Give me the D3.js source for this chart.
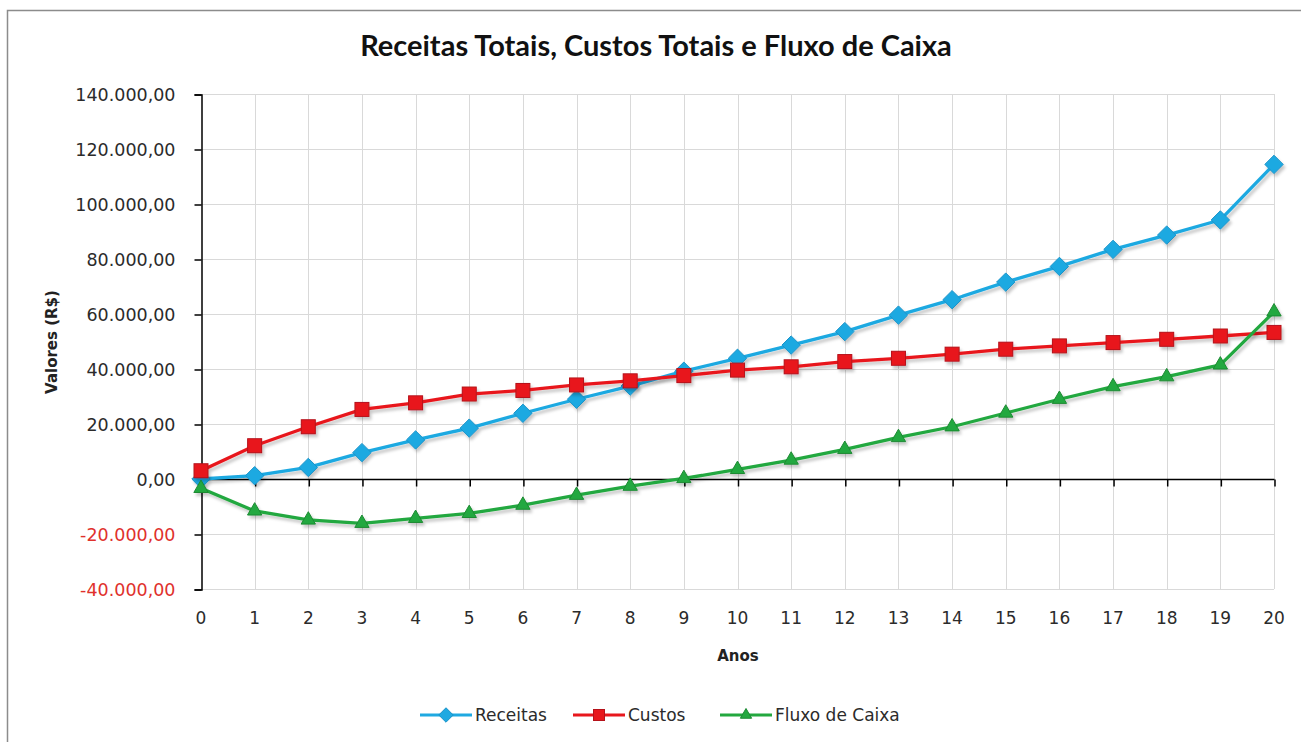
<!DOCTYPE html>
<html>
<head>
<meta charset="utf-8">
<script src="https://cdn.jsdelivr.net/npm/d3@7"></script>
<style>
  body { margin: 0; background: #fff; }
  text { font-family: "DejaVu Sans", Verdana, sans-serif; }
</style>
</head>
<body>
<svg id="chart" width="1301" height="742"></svg>
<script>
// data
var anos = [0, 1, 2, 3, 4, 5, 6, 7, 8, 9, 10, 11, 12, 13, 14, 15, 16, 17, 18, 19, 20];
var receitas = [0, 1200, 4200, 9600, 14200, 18500, 23900, 29000, 33800, 39200, 43900, 48700, 53600, 59600, 65200, 71600, 77300, 83500, 88700, 94200, 114400];
var custos = [3000, 12100, 19000, 25300, 27700, 30900, 32200, 34200, 35700, 37600, 39600, 40800, 42700, 43900, 45400, 47200, 48400, 49600, 50800, 52000, 53300];
var fluxo = [-3400, -11600, -14900, -16100, -14300, -12500, -9500, -5900, -2600, 200, 3500, 6900, 10800, 15100, 19000, 24000, 29000, 33600, 37200, 41500, 60800];
var yTicks = [-40000, -20000, 0, 20000, 40000, 60000, 80000, 100000, 120000, 140000];

var series = [
    {name: "Receitas", values: receitas, color: "#1fa9e1", stroke: "#1a93c9", shape: "diamond"},
    {name: "Custos", values: custos, color: "#e8171c", stroke: "#b5121a", shape: "square"},
    {name: "Fluxo de Caixa", values: fluxo, color: "#23a83f", stroke: "#1c8a33", shape: "triangle"}
];

var svg = d3.select("#chart");
// plot area bounds (named so they don't clash with window.top)
var plotLeft = 201, plotRight = 1274, plotTop = 94, plotBottom = 589;

var x = d3.scaleLinear().domain([0, 20]).range([plotLeft, plotRight]);
var y = d3.scaleLinear().domain([-40000, 140000]).range([plotBottom, plotTop]);

// outer chart border (only top/left show in the picture)
svg.append("rect")
    .attr("x", 7.5).attr("y", 10.5)
    .attr("width", 1320).attr("height", 760)
    .attr("fill", "none")
    .attr("stroke", "#8c8c8c")
    .attr("stroke-width", 1.5);

var defs = svg.append("defs");
var f = defs.append("filter").attr("id", "shadow")
    .attr("x", "-10%").attr("y", "-10%").attr("width", "130%").attr("height", "130%");
f.append("feDropShadow")
    .attr("dx", 2).attr("dy", 3).attr("stdDeviation", 1.8)
    .attr("flood-color", "#000").attr("flood-opacity", 0.22);

// gridlines
var g = svg.append("g");
g.selectAll(".hgrid").data(yTicks.filter(function(d){ return d != 0; }))
    .enter().append("line")
    .attr("x1", plotLeft).attr("x2", plotRight)
    .attr("y1", function(d){ return Math.round(y(d)) + 0.5; })
    .attr("y2", function(d){ return Math.round(y(d)) + 0.5; })
    .attr("stroke", "#d9d9d9");
g.selectAll(".vgrid").data(anos.filter(function(d){ return d != 0; }))
    .enter().append("line")
    .attr("x1", function(d){ return Math.round(x(d)) + 0.5; })
    .attr("x2", function(d){ return Math.round(x(d)) + 0.5; })
    .attr("y1", plotTop).attr("y2", plotBottom)
    .attr("stroke", "#d9d9d9");

// y axis
var yAxis = d3.axisLeft(y).tickValues(yTicks).tickSize(7).tickPadding(19)
    .tickFormat(function(d){
        return d3.format(",.2f")(d).replace(/,/g, "#").replace(".", ",").replace(/#/g, ".").replace("−", "-");
    });
var ya = svg.append("g").attr("transform", "translate(" + (plotLeft + 0.5) + ",0.5)").call(yAxis);
ya.select(".domain").attr("stroke", "#000").attr("stroke-width", 1.5);
ya.selectAll(".tick line").attr("stroke", "#000").attr("stroke-width", 1.5);
ya.selectAll(".tick text")
    .attr("font-size", 17.5)
    .attr("font-family", "DejaVu Sans")
    .attr("fill", function(d){ return d < 0 ? "#e0312c" : "#2b2b2b"; });

// x axis crossing at zero, ticks down, labels at the bottom
var xAxis = d3.axisBottom(x).tickValues(anos).tickSize(7).tickFormat("");
var xa = svg.append("g").attr("transform", "translate(0.5," + (Math.round(y(0)) + 0.5) + ")").call(xAxis);
xa.select(".domain").attr("stroke", "#000").attr("stroke-width", 1.5).attr("d", "M" + plotLeft + ",0H" + plotRight);
xa.selectAll(".tick line").attr("stroke", "#000").attr("stroke-width", 1.5);

svg.append("g").selectAll("text").data(anos).enter().append("text")
    .attr("x", function(d){ return x(d); })
    .attr("y", 624)
    .attr("text-anchor", "middle")
    .attr("font-size", 17)
    .attr("fill", "#2b2b2b")
    .text(function(d){ return d; });

// titles
svg.append("text")
    .attr("x", 656).attr("y", 56)
    .attr("text-anchor", "middle")
    .attr("font-weight", "bold")
    .attr("font-size", 29)
    .attr("fill", "#111")
    .style("font-family", "Lato")
    .text("Receitas Totais, Custos Totais e Fluxo de Caixa");

svg.append("text")
    .attr("x", 738).attr("y", 661)
    .attr("text-anchor", "middle")
    .attr("font-weight", "bold")
    .attr("font-size", 15)
    .attr("fill", "#222")
    .text("Anos");

svg.append("text")
    .attr("transform", "translate(57,342) rotate(-90)")
    .attr("text-anchor", "middle")
    .attr("font-weight", "bold")
    .attr("font-size", 15)
    .attr("fill", "#222")
    .text("Valores (R$)");

// markers
function marker(sel, shape, size) {
    if (shape == "diamond") {
        sel.append("path").attr("d", d3.symbol(d3.symbolDiamond2, size * size * 1.1)());
    } else if (shape == "square") {
        sel.append("rect").attr("x", -size / 2).attr("y", -size / 2).attr("width", size).attr("height", size);
    } else {
        sel.append("path").attr("d", d3.symbol(d3.symbolTriangle2, size * size * 0.75)());
    }
}

var line = d3.line()
    .x(function(d, i){ return x(anos[i]); })
    .y(function(d){ return y(d); });

series.forEach(function(s) {
    var sg = svg.append("g").attr("filter", "url(#shadow)");
    sg.append("path")
        .attr("d", line(s.values))
        .attr("fill", "none")
        .attr("stroke", s.color)
        .attr("stroke-width", 3.3)
        .attr("stroke-linejoin", "round");
    sg.selectAll(".pt").data(s.values).enter().append("g")
        .attr("transform", function(d, i){ return "translate(" + x(anos[i]) + "," + y(d) + ")"; })
        .each(function(){
            marker(d3.select(this), s.shape, 14);
        })
        .selectAll("path,rect")
        .attr("fill", s.color)
        .attr("stroke", s.stroke)
        .attr("stroke-width", 1);
});

// legend
var legendX = [420, 573, 720];
series.forEach(function(s, i) {
    var lg = svg.append("g").attr("transform", "translate(" + legendX[i] + ",715)");
    lg.append("line").attr("x1", 0).attr("x2", 52).attr("y1", 0).attr("y2", 0)
        .attr("stroke", s.color).attr("stroke-width", 3.2);
    var m = lg.append("g").attr("transform", "translate(26,0)");
    marker(m, s.shape, 11);
    m.selectAll("path,rect").attr("fill", s.color).attr("stroke", s.stroke).attr("stroke-width", 1);
    lg.append("text")
        .attr("x", 55).attr("y", 6)
        .attr("font-size", 17)
        .attr("fill", "#2b2b2b")
        .text(s.name);
});
</script>
</body>
</html>
